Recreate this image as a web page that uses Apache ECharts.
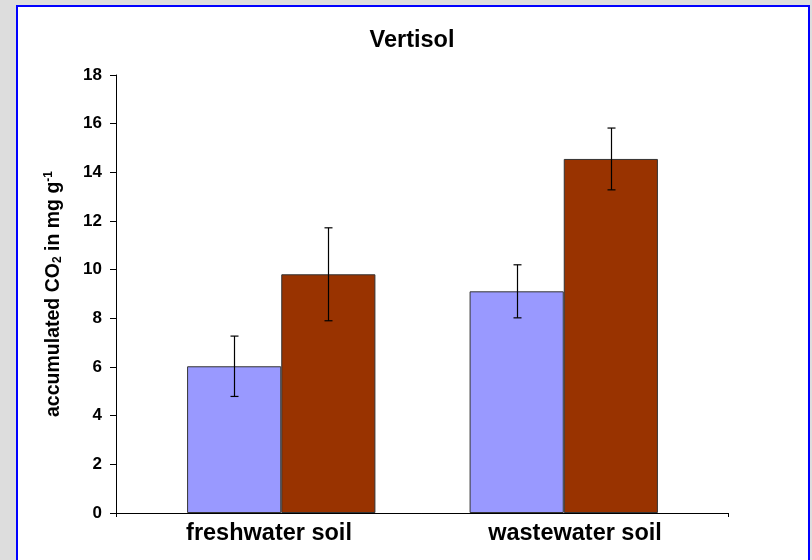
<!DOCTYPE html>
<html>
<head>
<meta charset="utf-8">
<script src="https://cdn.jsdelivr.net/npm/echarts@6/dist/echarts.min.js"></script>
<style>
  html, body { margin: 0; padding: 0; background: #dddddd; width: 812px; height: 560px; overflow: hidden; }
  #frame { position: absolute; left: 16px; top: 5px; width: 790px; height: 570px; border: 2.5px solid #0000ff; background: #ffffff; }
  #chart { position: absolute; left: 0; top: 0; width: 812px; height: 560px; }
</style>
</head>
<body>
<div id="frame"></div>
<div id="chart"></div>
<script>
// ---- data ----
const categories = ['freshwater soil', 'wastewater soil'];
const seriesNames = ['series 1', 'series 2'];
const blueValues = [6.03, 9.11];
const blueErrors = [1.24, 1.09];
const brownValues = [9.81, 14.55];
const brownErrors = [1.91, 1.27];
const yTicks = { min: 0, max: 18, interval: 2 };
const titleText = 'Vertisol';

const FONT = '"Liberation Sans", Arial, sans-serif';
const chart = echarts.init(document.getElementById('chart'), null, { renderer: 'canvas' });

function errorSeries(values, errors, side) {
  return {
    type: 'custom',
    xAxisIndex: 0,
    yAxisIndex: 0,
    z: 10,
    data: values.map((v, i) => [i, v, errors[i]]),
    renderItem: function (params, api) {
      const cat = api.value(0), mean = api.value(1), err = api.value(2);
      const catW = api.size([1, 0])[0];
      const dx = side * catW / 6;
      const top = api.coord([cat, mean + err]);
      const bot = api.coord([cat, mean - err]);
      const x = Math.round(top[0] + dx) + 0.5;
      const cap = 4;
      const style = { stroke: '#000000', lineWidth: 1.2 };
      return {
        type: 'group',
        children: [
          { type: 'line', shape: { x1: x, y1: top[1], x2: x, y2: bot[1] }, style: style },
          { type: 'line', shape: { x1: x - cap, y1: top[1], x2: x + cap, y2: top[1] }, style: style },
          { type: 'line', shape: { x1: x - cap, y1: bot[1], x2: x + cap, y2: bot[1] }, style: style }
        ]
      };
    }
  };
}

const option = {
  backgroundColor: 'transparent',
  animation: false,
  title: {
    text: titleText,
    left: 407,
    textAlign: 'center',
    top: 24,
    textStyle: { fontFamily: FONT, fontWeight: 'bold', fontSize: 23.5, color: '#000000' }
  },
  grid: [
    { left: 140, right: 107, top: 75, bottom: 47 },
    { left: 116, right: 84, top: 75, bottom: 47 }
  ],
  xAxis: [
    {
      type: 'category', gridIndex: 0, data: categories,
      axisLine: { show: false }, axisTick: { show: false }, axisLabel: { show: false }
    },
    {
      type: 'category', gridIndex: 1, data: categories, position: 'bottom',
      axisLine: { show: false }, axisTick: { show: false },
      axisLabel: { fontFamily: FONT, fontWeight: 'bold', fontSize: 23.5, color: '#000000', margin: 9 }
    },
    {
      type: 'value', gridIndex: 1, min: 0, max: 1, interval: 1, position: 'bottom', offset: 0,
      axisLine: { show: true, lineStyle: { color: '#000000', width: 1 } },
      axisTick: { show: true, length: 4, lineStyle: { color: '#000000' } },
      axisLabel: { show: false },
      splitLine: { show: false }
    }
  ],
  yAxis: [
    {
      type: 'value', gridIndex: 0, min: yTicks.min, max: yTicks.max, interval: yTicks.interval,
      show: false, splitLine: { show: false }
    },
    {
      type: 'value', gridIndex: 1, min: yTicks.min, max: yTicks.max, interval: yTicks.interval,
      axisLine: { show: true, lineStyle: { color: '#000000', width: 1 } },
      axisTick: { show: true, length: 6, lineStyle: { color: '#000000' } },
      axisLabel: { fontFamily: FONT, fontWeight: 'bold', fontSize: 17, color: '#000000', margin: 14 },
      splitLine: { show: false },
      name: 'accumulated CO{sub|2} in mg g{sup|-1}',
      nameLocation: 'middle',
      nameGap: 52,
      nameRotate: 90,
      nameTextStyle: {
        fontFamily: FONT, fontWeight: 'bold', fontSize: 19.5, color: '#000000',
        rich: {
          sub: { fontFamily: FONT, fontWeight: 'bold', fontSize: 12, color: '#000000', verticalAlign: 'bottom', padding: [8, 0, 0, 0] },
          sup: { fontFamily: FONT, fontWeight: 'bold', fontSize: 12, color: '#000000', verticalAlign: 'top', padding: [0, 0, 9, 0] }
        }
      }
    }
  ],
  series: [
    {
      name: seriesNames[0], type: 'bar', xAxisIndex: 0, yAxisIndex: 0,
      data: blueValues, barGap: '0%', barCategoryGap: '33.333%',
      itemStyle: { color: '#9999ff', borderColor: '#333333', borderWidth: 1 }
    },
    {
      name: seriesNames[1], type: 'bar', xAxisIndex: 0, yAxisIndex: 0,
      data: brownValues, barGap: '0%', barCategoryGap: '33.333%',
      itemStyle: { color: '#993300', borderColor: '#333333', borderWidth: 1 }
    },
    errorSeries(blueValues, blueErrors, -1),
    errorSeries(brownValues, brownErrors, 1)
  ]
};
chart.setOption(option);
</script>
</body>
</html>
